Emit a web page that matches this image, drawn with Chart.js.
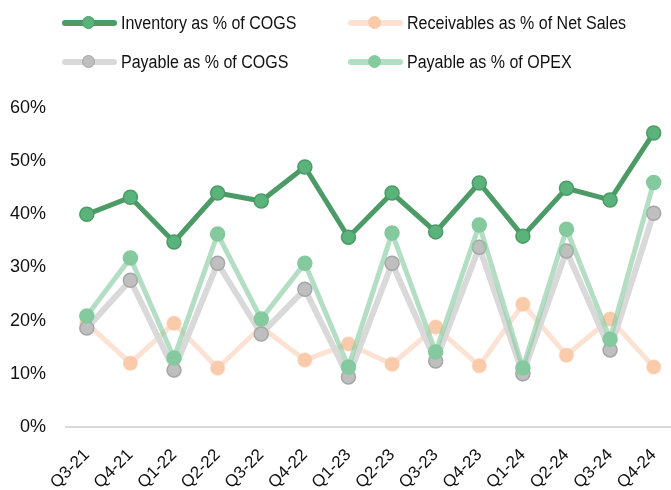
<!DOCTYPE html>
<html>
<head>
<meta charset="utf-8">
<script src="https://cdn.jsdelivr.net/npm/chart.js@4.4.1/dist/chart.umd.min.js"></script>
<style>
  html, body { margin: 0; padding: 0; background: #fff; overflow: hidden; }
  #wrap { position: relative; width: 671px; height: 490px; overflow: hidden; }
  #legend { position: absolute; left: 0; top: 0; width: 671px; height: 90px; font-family: "Liberation Sans", Arial, sans-serif; font-size: 18px; color: #111; }
  .lg-item { position: absolute; display: flex; align-items: center; white-space: nowrap; }
  .lg-sym { position: relative; width: 55px; height: 14px; margin-right: 4px; flex: none; }
  .lg-line { position: absolute; left: 0; right: 0; top: 4px; height: 6px; border-radius: 3px; }
  .lg-dot { position: absolute; left: 20px; top: 0; width: 11px; height: 11px; border-radius: 50%; border: 1.5px solid; }
  .lg-text { display: inline-block; transform: scaleX(0.89); transform-origin: left center; }
</style>
</head>
<body>
<div id="wrap">
  <canvas id="lineChart" width="684" height="490"></canvas>
  <div id="legend"></div>
</div>
<script>
// 분기 라벨 및 시리즈 값 (%)
const quarters = ['Q3-21','Q4-21','Q1-22','Q2-22','Q3-22','Q4-22','Q1-23','Q2-23','Q3-23','Q4-23','Q1-24','Q2-24','Q3-24','Q4-24'];
const inventoryCogs = [40.0, 43.2, 34.8, 44.0, 42.5, 48.9, 35.7, 44.0, 36.7, 45.9, 35.9, 44.9, 42.7, 55.3];
const receivablesSales = [19.5, 12.0, 19.5, 11.1, 18.8, 12.6, 15.6, 11.8, 18.8, 11.5, 23.1, 13.5, 20.3, 11.3];
const payableCogs = [18.6, 27.6, 10.7, 30.8, 17.5, 25.9, 9.4, 30.8, 12.4, 33.8, 10.0, 33.1, 14.5, 40.2];
const payableOpex = [20.9, 31.8, 13.0, 36.3, 20.3, 30.8, 11.3, 36.5, 14.1, 38.0, 11.1, 37.2, 16.5, 46.0];
const yTicks = [0, 10, 20, 30, 40, 50, 60];

const series = [
  { label: 'Inventory as % of COGS', data: inventoryCogs, line: '#4c9b67', dot: '#5bb37c', dotBorder: '#4c9b67', width: 5, order: 0 },
  { label: 'Receivables as % of Net Sales', data: receivablesSales, line: 'rgba(248,203,173,0.55)', dot: '#f9cbab', dotBorder: 'rgba(249,203,171,0.5)', width: 5, order: 3 },
  { label: 'Payable as % of COGS', data: payableCogs, line: '#d9d9d9', dot: '#bfbfbf', dotBorder: '#a6a6a6', width: 6, order: 2 },
  { label: 'Payable as % of OPEX', data: payableOpex, line: 'rgba(140,205,165,0.65)', dot: '#85c99e', dotBorder: '#85c99e', width: 5, order: 1 }
];

// 범례 (2열 배치)
const legendPos = [[62, 23], [348, 23], [62, 62], [348, 62]];
const legendEl = document.getElementById('legend');
legendEl.innerHTML = series.map((s, i) => `
  <div class="lg-item" style="left:${legendPos[i][0]}px; top:${legendPos[i][1] - 11}px; height:22px;">
    <div class="lg-sym">
      <div class="lg-line" style="background:${s.line}"></div>
      <div class="lg-dot" style="background:${s.dot}; border-color:${s.dotBorder}"></div>
    </div>
    <span class="lg-text">${s.label}</span>
  </div>`).join('');

const ctx = document.getElementById('lineChart').getContext('2d');
window.lineChartInst = new Chart(ctx, {
  type: 'line',
  data: {
    labels: quarters,
    datasets: series.map(s => ({
      label: s.label, data: s.data, order: s.order,
      borderColor: s.line, borderWidth: s.width, tension: 0,
      pointRadius: 7, pointBackgroundColor: s.dot, pointBorderColor: s.dotBorder, pointBorderWidth: 1.5
    }))
  },
  options: {
    responsive: false, animation: false,
    layout: { padding: { top: 108, left: 8, right: 0, bottom: 0 } },
    plugins: { legend: { display: false }, tooltip: { enabled: false } },
    scales: {
      x: {
        offset: true,
        grid: { display: false },
        border: { display: false },
        afterFit: s => { s.height = 63; s.paddingLeft = 0; s.paddingRight = 0; },
        ticks: { color: '#111', font: { family: 'Liberation Sans, Arial', size: 17 }, maxRotation: 45, minRotation: 45, padding: 10 }
      },
      y: {
        min: 0, max: 60,
        afterBuildTicks: axis => { axis.ticks = yTicks.map(v => ({ value: v })); },
        afterFit: s => { s.width = 57; s.paddingTop = 0; s.paddingBottom = 0; },
        grid: { drawTicks: false, lineWidth: 2, color: c => c.tick && c.tick.value === 0 ? '#d9d9d9' : 'rgba(0,0,0,0)' },
        border: { display: false },
        ticks: { color: '#111', padding: 19, font: { family: 'Liberation Sans, Arial', size: 18 }, callback: v => `${v}%` }
      }
    }
  }
});
</script>
</body>
</html>
